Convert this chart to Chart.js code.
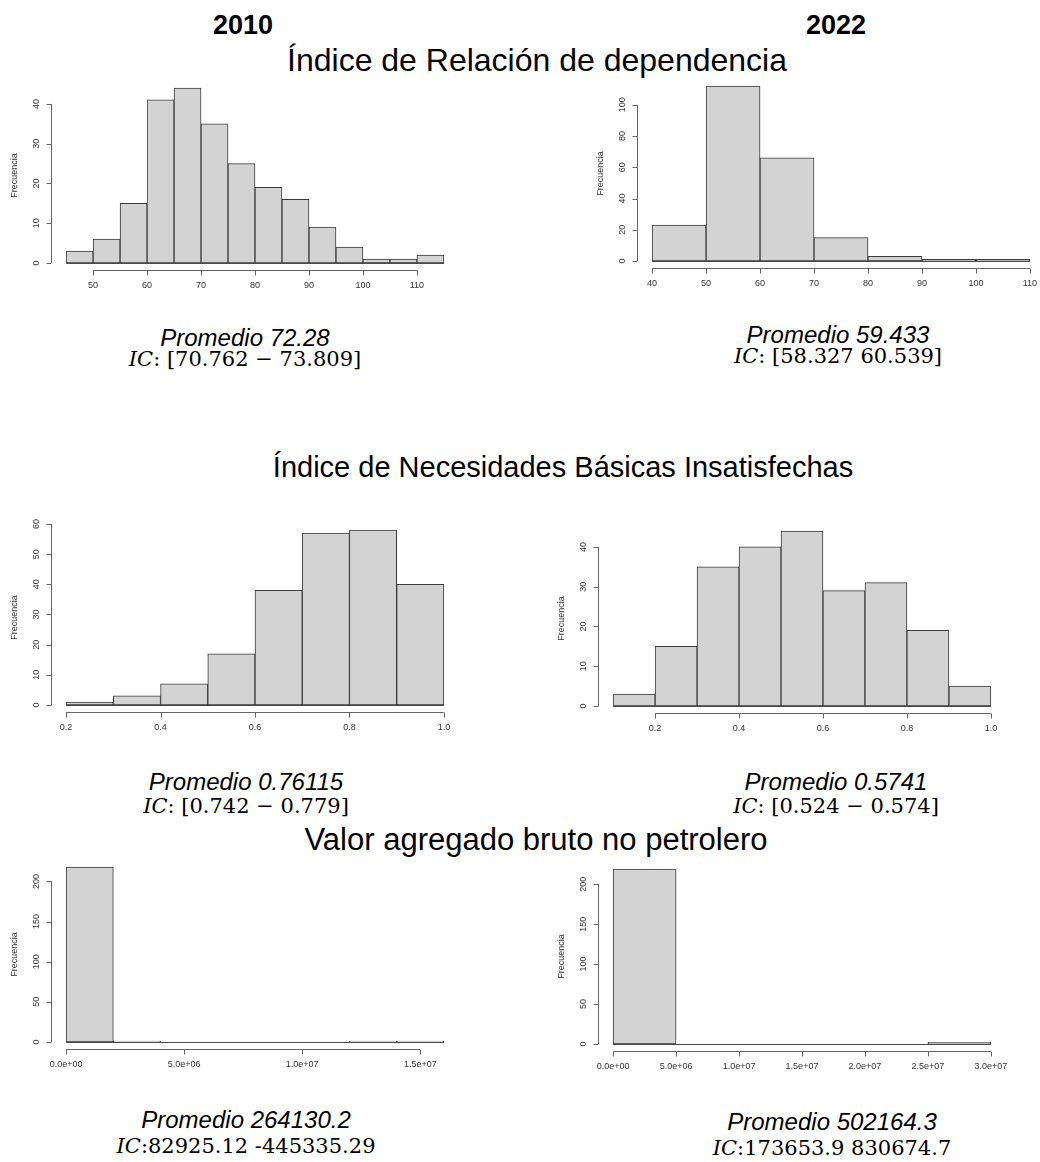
<!DOCTYPE html>
<html>
<head>
<meta charset="utf-8">
<script src="https://cdn.jsdelivr.net/npm/chart.js@4.4.1/dist/chart.umd.min.js"></script>
<style>
body { margin: 0; width: 1040px; height: 1162px; overflow: hidden; background: #fff; position: relative; font-family: Arial, "Liberation Sans", sans-serif; }
.t { position: absolute; white-space: nowrap; transform: translate(-50%, -50%); color: #000; }
.yr { font-weight: bold; font-size: 27px; }
.ttl { font-size: 30px; }
.pm { font-style: italic; font-size: 24px; }
.ic { font-family: "DejaVu Serif", "Liberation Serif", serif; font-size: 21px; }
.ic i { font-style: italic; }
canvas { position: absolute; }
</style>
</head>
<body>
<div class="t yr" style="left:243px;top:25px">2010</div>
<div class="t yr" style="left:836px;top:25px">2022</div>
<div class="t ttl" style="left:537px;top:60px;font-size:32px">Índice de Relación de dependencia</div>
<div class="t ttl" style="left:563px;top:467px;font-size:29px">Índice de Necesidades Básicas Insatisfechas</div>
<div class="t ttl" style="left:536px;top:840px;font-size:31px">Valor agregado bruto no petrolero</div>

<div class="t pm" style="left:245px;top:338px">Promedio 72.28</div>
<div class="t ic" style="left:245px;top:359px"><i>IC</i>: [70.762 − 73.809]</div>
<div class="t pm" style="left:838px;top:335px">Promedio 59.433</div>
<div class="t ic" style="left:838px;top:356px"><i>IC</i>: [58.327 60.539]</div>

<div class="t pm" style="left:246px;top:782px">Promedio 0.76115</div>
<div class="t ic" style="left:246px;top:806px"><i>IC</i>: [0.742 − 0.779]</div>
<div class="t pm" style="left:836px;top:782px">Promedio 0.5741</div>
<div class="t ic" style="left:836px;top:806px"><i>IC</i>: [0.524 − 0.574]</div>

<div class="t pm" style="left:246px;top:1120px">Promedio 264130.2</div>
<div class="t ic" style="left:246px;top:1146px"><i>IC</i>:82925.12 -445335.29</div>
<div class="t pm" style="left:832px;top:1122px">Promedio 502164.3</div>
<div class="t ic" style="left:832px;top:1148px"><i>IC</i>:173653.9 830674.7</div>

<canvas id="c1"></canvas>
<canvas id="c2"></canvas>
<canvas id="c3"></canvas>
<canvas id="c4"></canvas>
<canvas id="c5"></canvas>
<canvas id="c6"></canvas>

<script>
// histogram data: bin breaks + counts
const rdBreaks2010 = [45, 50, 55, 60, 65, 70, 75, 80, 85, 90, 95, 100, 105, 110, 115];
const rdCounts2010 = [3, 6, 15, 41, 44, 35, 25, 19, 16, 9, 4, 1, 1, 2];
const rdBreaks2022 = [40, 50, 60, 70, 80, 90, 100, 110];
const rdCounts2022 = [23, 112, 66, 15, 3, 1, 1];

const nbiBreaks2010 = [0.2, 0.3, 0.4, 0.5, 0.6, 0.7, 0.8, 0.9, 1.0];
const nbiCounts2010 = [1, 3, 7, 17, 38, 57, 58, 40];
const nbiBreaks2022 = [0.1, 0.2, 0.3, 0.4, 0.5, 0.6, 0.7, 0.8, 0.9, 1.0];
const nbiCounts2022 = [3, 15, 35, 40, 44, 29, 31, 19, 5];

const vabBreaks2010 = [0, 2e6, 4e6, 6e6, 8e6, 10e6, 12e6, 14e6, 16e6];
const vabCounts2010 = [218, 1, 0, 0, 0, 0, 1, 1];
const vabBreaks2022 = [0, 5e6, 10e6, 15e6, 20e6, 25e6, 30e6];
const vabCounts2022 = [219, 0, 0, 0, 0, 2];

// axis ticks
const rdXTicks2010 = [50, 60, 70, 80, 90, 100, 110];
const rdYTicks2010 = [0, 10, 20, 30, 40];
const rdXTicks2022 = [40, 50, 60, 70, 80, 90, 100, 110];
const rdYTicks2022 = [0, 20, 40, 60, 80, 100];
const nbiXTicks = [0.2, 0.4, 0.6, 0.8, 1.0];
const nbiXLabels = ['0.2', '0.4', '0.6', '0.8', '1.0'];
const nbiYTicks2010 = [0, 10, 20, 30, 40, 50, 60];
const nbiYTicks2022 = [0, 10, 20, 30, 40];
const vabXTicks2010 = [0, 5e6, 10e6, 15e6];
const vabXLabels2010 = ['0.0e+00', '5.0e+06', '1.0e+07', '1.5e+07'];
const vabXTicks2022 = [0, 5e6, 10e6, 15e6, 20e6, 25e6, 30e6];
const vabXLabels2022 = ['0.0e+00', '5.0e+06', '1.0e+07', '1.5e+07', '2.0e+07', '2.5e+07', '3.0e+07'];
const vabYTicks = [0, 50, 100, 150, 200];

const PAD = { left: 52, right: 10, top: 6, bottom: 34 };
const PLOT_W = 408, PLOT_H = 189;

// R-like axes: line only from first to last tick, rotated y labels
const rAxes = {
  id: 'rAxes',
  afterDraw(chart, args, o) {
    const { ctx, chartArea: a, scales: { x, y } } = chart;
    ctx.save();
    ctx.strokeStyle = '#4a4a4a';
    ctx.fillStyle = '#333';
    ctx.lineWidth = 1;

    // zero baseline of histogram (empty bins show as a flat line)
    const b0 = Math.round(y.getPixelForValue(0)) + 0.5;
    ctx.beginPath();
    ctx.moveTo(x.getPixelForValue(o.breaks[0]), b0);
    ctx.lineTo(x.getPixelForValue(o.breaks[o.breaks.length - 1]), b0);
    ctx.stroke();

    // x axis
    const ay = Math.round(a.bottom) + 0.5;
    ctx.strokeStyle = '#666';
    ctx.beginPath();
    ctx.moveTo(x.getPixelForValue(o.xTicks[0]), ay);
    ctx.lineTo(x.getPixelForValue(o.xTicks[o.xTicks.length - 1]), ay);
    o.xTicks.forEach(v => {
      const px = Math.round(x.getPixelForValue(v)) + 0.5;
      ctx.moveTo(px, ay);
      ctx.lineTo(px, ay + 5);
    });
    ctx.stroke();
    ctx.font = '9px Arial';
    ctx.textAlign = 'center';
    ctx.textBaseline = 'middle';
    o.xTicks.forEach((v, i) => {
      ctx.fillText(o.xLabels ? o.xLabels[i] : String(v), x.getPixelForValue(v), ay + 15);
    });

    // y axis
    const ax = Math.round(a.left) + 0.5;
    ctx.beginPath();
    ctx.moveTo(ax, y.getPixelForValue(o.yTicks[0]));
    ctx.lineTo(ax, y.getPixelForValue(o.yTicks[o.yTicks.length - 1]));
    o.yTicks.forEach(v => {
      const py = Math.round(y.getPixelForValue(v)) + 0.5;
      ctx.moveTo(ax, py);
      ctx.lineTo(ax - 5, py);
    });
    ctx.stroke();
    o.yTicks.forEach(v => {
      ctx.save();
      ctx.translate(ax - 15, y.getPixelForValue(v));
      ctx.rotate(-Math.PI / 2);
      ctx.fillText(String(v), 0, 0);
      ctx.restore();
    });

    // y title
    ctx.save();
    ctx.translate(ax - 37, (a.top + a.bottom) / 2);
    ctx.rotate(-Math.PI / 2);
    ctx.fillText('Frecuencia', 0, 0);
    ctx.restore();

    ctx.restore();
  }
};

function makeHist(id, plotLeft, plotTop, breaks, counts, xTicks, xLabels, yTicks) {
  const canvas = document.getElementById(id);
  canvas.width = PAD.left + PLOT_W + PAD.right;
  canvas.height = PAD.top + PLOT_H + PAD.bottom;
  canvas.style.left = (plotLeft - PAD.left) + 'px';
  canvas.style.top = (plotTop - PAD.top) + 'px';

  const xr = breaks[breaks.length - 1] - breaks[0];
  const ymax = Math.max(...counts);
  const points = counts.map((c, i) => ({ x: (breaks[i] + breaks[i + 1]) / 2, y: c }));

  new Chart(canvas, {
    type: 'bar',
    data: {
      datasets: [{
        data: points,
        backgroundColor: '#d3d3d3',
        borderColor: '#3a3a3a',
        borderWidth: 1,
        borderSkipped: false,
        barPercentage: 1,
        categoryPercentage: 1,
        grouped: false
      }]
    },
    options: {
      responsive: false,
      animation: false,
      events: [],
      layout: { padding: PAD },
      plugins: {
        legend: { display: false },
        tooltip: { enabled: false },
        rAxes: { breaks: breaks, xTicks: xTicks, xLabels: xLabels, yTicks: yTicks }
      },
      scales: {
        x: {
          type: 'linear', display: false, offset: false,
          min: breaks[0] - 0.04 * xr, max: breaks[breaks.length - 1] + 0.04 * xr
        },
        y: {
          display: false,
          min: -0.04 * ymax, max: 1.04 * ymax
        }
      }
    },
    plugins: [rAxes]
  });
}

makeHist('c1', 51, 81, rdBreaks2010, rdCounts2010, rdXTicks2010, null, rdYTicks2010);
makeHist('c2', 637, 79, rdBreaks2022, rdCounts2022, rdXTicks2022, null, rdYTicks2022);
makeHist('c3', 51, 523, nbiBreaks2010, nbiCounts2010, nbiXTicks, nbiXLabels, nbiYTicks2010);
makeHist('c4', 598, 524, nbiBreaks2022, nbiCounts2022, nbiXTicks, nbiXLabels, nbiYTicks2022);
makeHist('c5', 51, 860, vabBreaks2010, vabCounts2010, vabXTicks2010, vabXLabels2010, vabYTicks);
makeHist('c6', 598, 862, vabBreaks2022, vabCounts2022, vabXTicks2022, vabXLabels2022, vabYTicks);
</script>
</body>
</html>
